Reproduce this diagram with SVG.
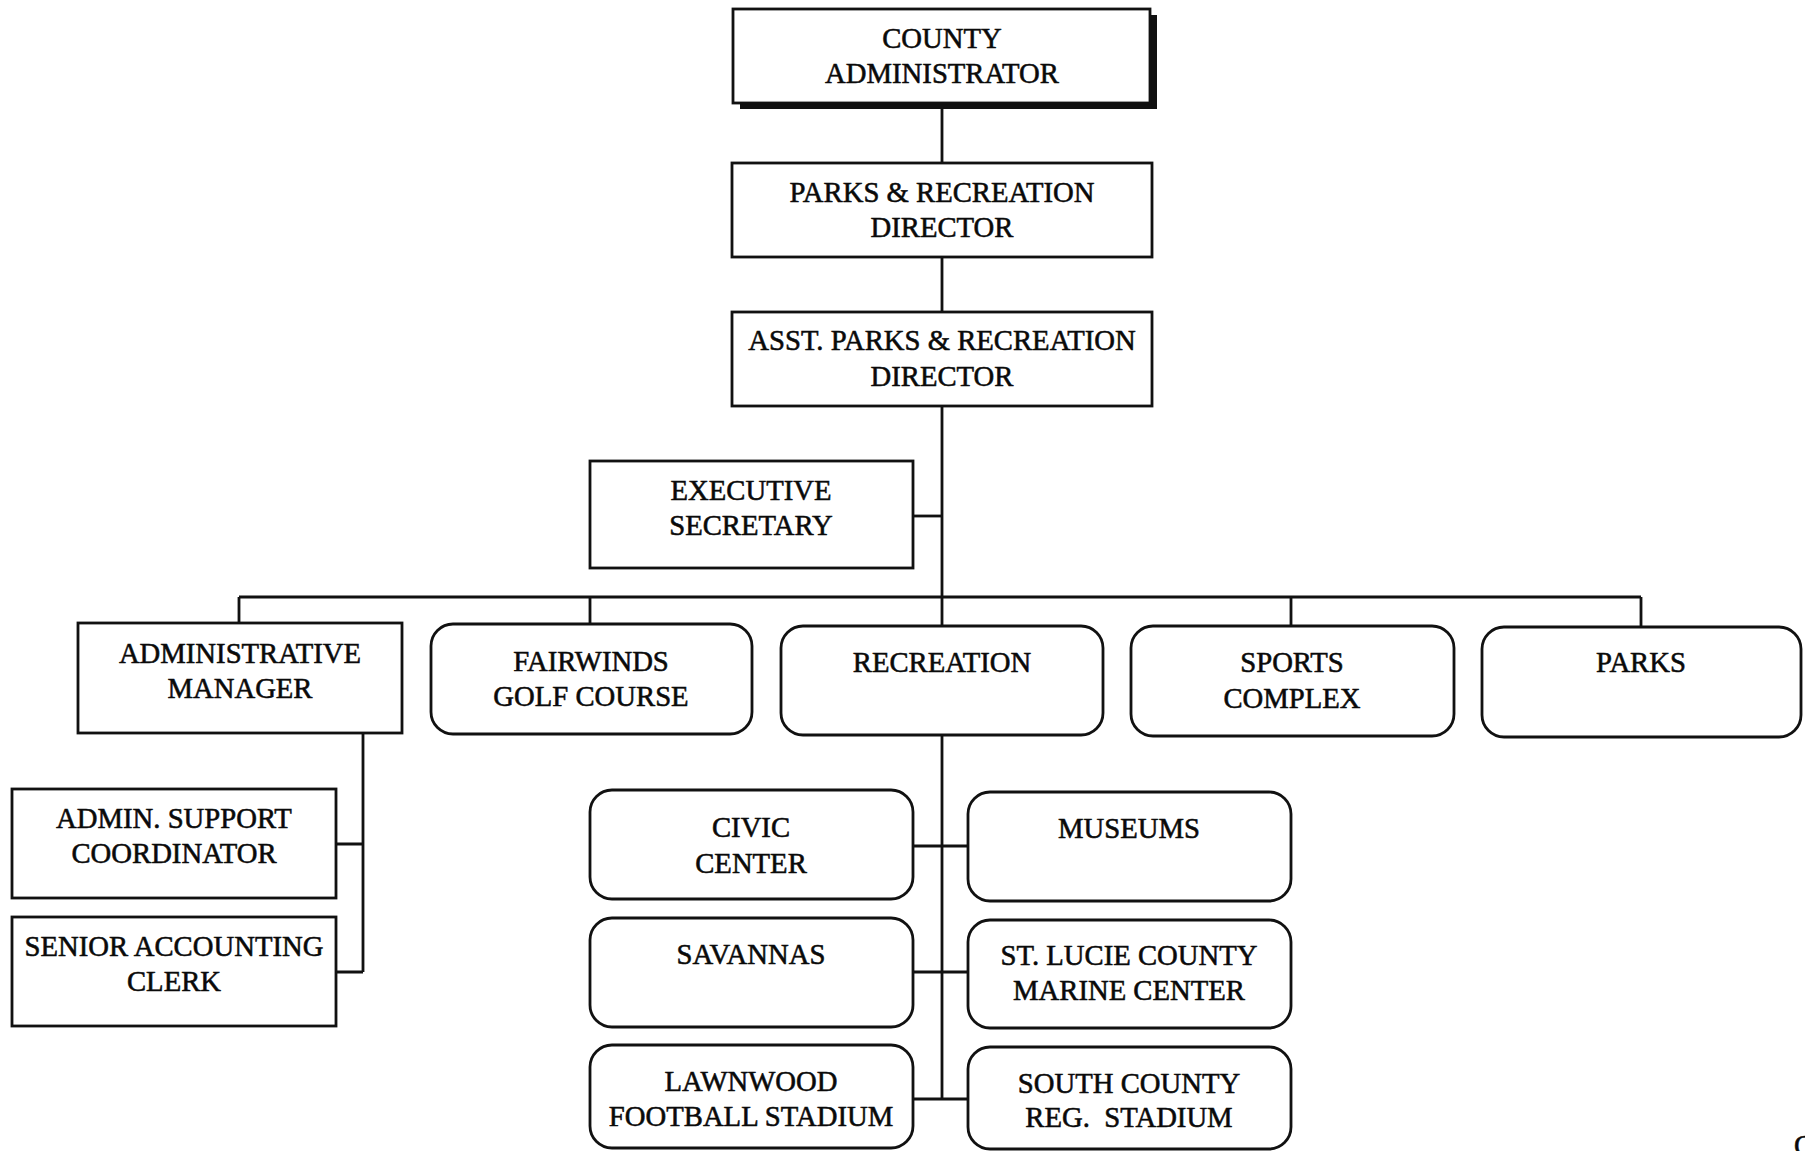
<svg xmlns="http://www.w3.org/2000/svg" width="1805" height="1151" viewBox="0 0 1805 1151">
  <style>
    .box { fill: #ffffff; stroke: #111111; stroke-width: 2.8; }
    .unit { fill: #ffffff; stroke: #111111; stroke-width: 2.8; }
    .link { fill: none; stroke: #111111; stroke-width: 2.8; }
    .lbl { font-family: "Liberation Serif", "Times New Roman", serif; font-size: 28.7px; fill: #0a0a0a; stroke: #0a0a0a; stroke-width: 0.55; text-anchor: middle; white-space: pre; }
  </style>
  <rect x="0" y="0" width="1805" height="1151" fill="#ffffff"/>

  <!-- reporting lines -->
  <g id="connectors">
    <path class="link" d="M942,103 V163 M942,257 V312 M942,406 V626 M942,735 V1099"/>
    <path class="link" d="M913,516 H942"/>
    <path class="link" d="M239,597 H1641 M239,597 V623 M590,597 V624 M1291,597 V626 M1641,597 V627"/>
    <path class="link" d="M363,733 V972 M336,844 H363 M336,972 H363"/>
    <path class="link" d="M913,846 H968 M913,972 H968 M913,1099 H968"/>
  </g>

  <!-- top of the chain -->
  <g id="county-administrator">
    <rect x="740" y="15" width="417" height="94" fill="#111111"/>
    <rect class="box" x="733" y="9" width="417" height="94" stroke-width="3"/>
    <text class="lbl" x="942" y="48">COUNTY</text>
    <text class="lbl" x="942" y="83">ADMINISTRATOR</text>
  </g>
  <g id="director">
    <rect class="box" x="732" y="163" width="420" height="94"/>
    <text class="lbl" x="942" y="202">PARKS &amp; RECREATION</text>
    <text class="lbl" x="942" y="237">DIRECTOR</text>
  </g>
  <g id="asst-director">
    <rect class="box" x="732" y="312" width="420" height="94"/>
    <text class="lbl" x="942" y="350">ASST. PARKS &amp; RECREATION</text>
    <text class="lbl" x="942" y="386">DIRECTOR</text>
  </g>
  <g id="executive-secretary">
    <rect class="box" x="590" y="461" width="323" height="107"/>
    <text class="lbl" x="751" y="500">EXECUTIVE</text>
    <text class="lbl" x="751" y="535">SECRETARY</text>
  </g>

  <!-- divisions -->
  <g id="administrative-manager">
    <rect class="box" x="78" y="623" width="324" height="110"/>
    <text class="lbl" x="240" y="663">ADMINISTRATIVE</text>
    <text class="lbl" x="240" y="698">MANAGER</text>
  </g>
  <g id="fairwinds">
    <rect class="unit" x="431" y="624" width="321" height="110" rx="22"/>
    <text class="lbl" x="591" y="671">FAIRWINDS</text>
    <text class="lbl" x="591" y="706">GOLF COURSE</text>
  </g>
  <g id="recreation">
    <rect class="unit" x="781" y="626" width="322" height="109" rx="22"/>
    <text class="lbl" x="942" y="672">RECREATION</text>
  </g>
  <g id="sports-complex">
    <rect class="unit" x="1131" y="626" width="323" height="110" rx="22"/>
    <text class="lbl" x="1292" y="672">SPORTS</text>
    <text class="lbl" x="1292" y="708">COMPLEX</text>
  </g>
  <g id="parks">
    <rect class="unit" x="1482" y="627" width="319" height="110" rx="22"/>
    <text class="lbl" x="1641" y="672">PARKS</text>
  </g>

  <!-- administrative staff -->
  <g id="admin-support">
    <rect class="box" x="12" y="789" width="324" height="109"/>
    <text class="lbl" x="174" y="828">ADMIN. SUPPORT</text>
    <text class="lbl" x="174" y="863">COORDINATOR</text>
  </g>
  <g id="senior-accounting">
    <rect class="box" x="12" y="917" width="324" height="109"/>
    <text class="lbl" x="174" y="956">SENIOR ACCOUNTING</text>
    <text class="lbl" x="174" y="991">CLERK</text>
  </g>

  <!-- recreation facilities -->
  <g id="civic-center">
    <rect class="unit" x="590" y="790" width="323" height="109" rx="22"/>
    <text class="lbl" x="751" y="837">CIVIC</text>
    <text class="lbl" x="751" y="873">CENTER</text>
  </g>
  <g id="savannas">
    <rect class="unit" x="590" y="918" width="323" height="109" rx="22"/>
    <text class="lbl" x="751" y="964">SAVANNAS</text>
  </g>
  <g id="lawnwood">
    <rect class="unit" x="590" y="1045" width="323" height="103" rx="22"/>
    <text class="lbl" x="751" y="1091">LAWNWOOD</text>
    <text class="lbl" x="751" y="1126">FOOTBALL STADIUM</text>
  </g>
  <g id="museums">
    <rect class="unit" x="968" y="792" width="323" height="109" rx="22"/>
    <text class="lbl" x="1129" y="838">MUSEUMS</text>
  </g>
  <g id="marine-center">
    <rect class="unit" x="968" y="920" width="323" height="108" rx="22"/>
    <text class="lbl" x="1129" y="965">ST. LUCIE COUNTY</text>
    <text class="lbl" x="1129" y="1000">MARINE CENTER</text>
  </g>
  <g id="south-county">
    <rect class="unit" x="968" y="1047" width="323" height="102" rx="22"/>
    <text class="lbl" x="1129" y="1093">SOUTH COUNTY</text>
    <text class="lbl" x="1129" y="1127">REG.  STADIUM</text>
  </g>

  <!-- glyph running off the page corner -->
  <text class="lbl" x="1794" y="1155" style="text-anchor:start">C</text>
</svg>
